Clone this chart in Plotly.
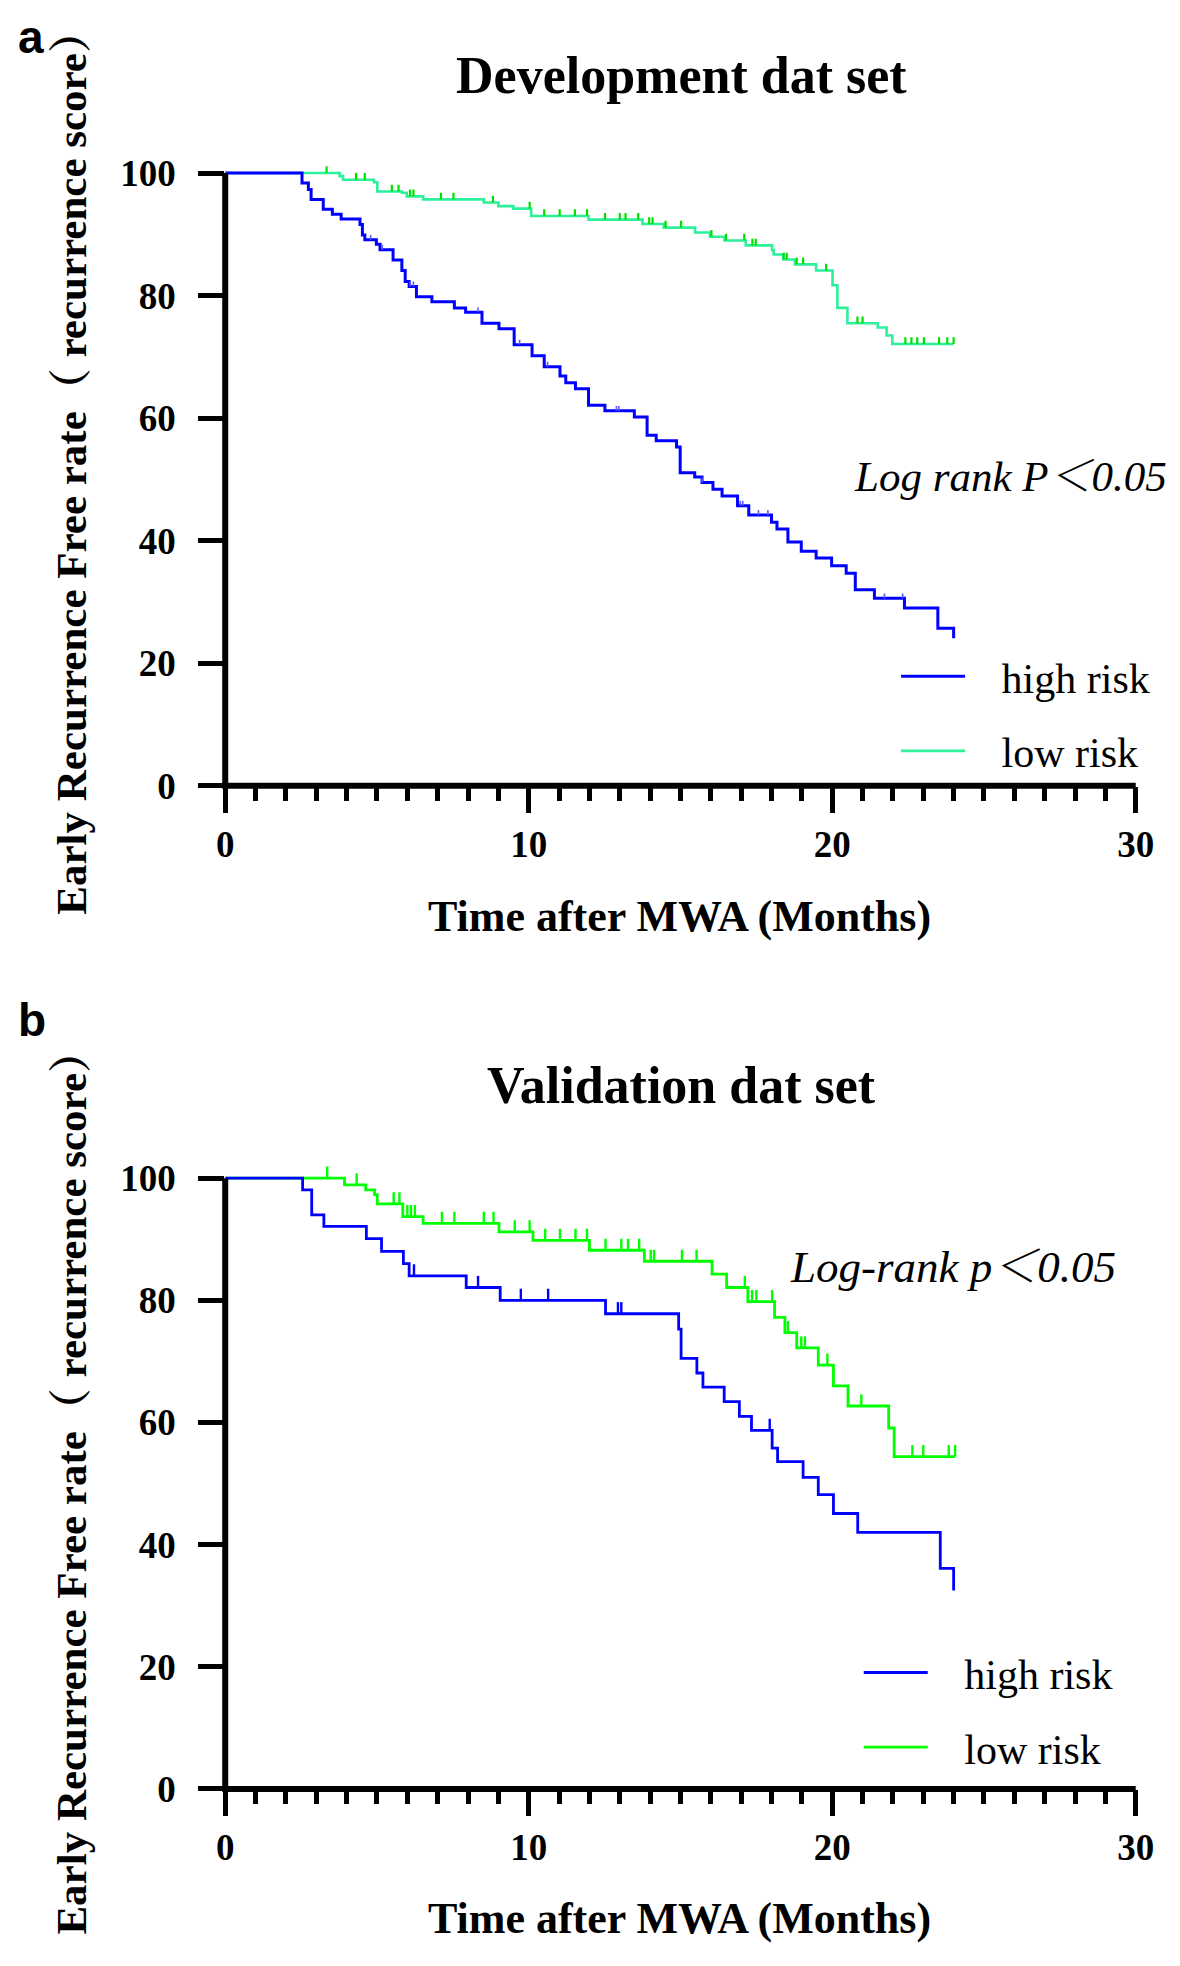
import bisect
import plotly.graph_objects as go

# ---------------- data ----------------
months_ticks = [0, 10, 20, 30]
rate_ticks = [0, 20, 40, 60, 80, 100]

# Development data set - high risk (event times / survival after step)
dev_high_t = [0, 2.53, 2.74, 2.83, 3.23, 3.53, 3.82, 4.44, 4.52, 4.60, 4.98, 5.10, 5.53, 5.82,
              5.93, 6.06, 6.30, 6.81, 7.55, 7.92, 8.46, 9.02, 9.52, 10.11, 10.51, 11.03, 11.22,
              11.54, 11.97, 12.51, 13.48, 13.90, 14.20, 14.87, 14.99, 15.47, 15.71, 16.07, 16.37,
              16.88, 17.25, 18.00, 18.18, 18.54, 18.98, 19.47, 19.98, 20.46, 20.76, 21.39, 22.38,
              23.48, 24.00]
dev_high_s = [100, 98.4, 97.3, 95.7, 94.1, 93.3, 92.5, 91.6, 89.9, 89.1, 88.4, 87.5, 85.8, 84.1,
              82.3, 81.5, 79.8, 79.0, 78.0, 77.3, 75.5, 74.6, 72.0, 70.2, 68.4, 66.9, 65.8,
              64.8, 62.1, 61.2, 60.2, 57.2, 56.3, 55.3, 51.1, 50.4, 49.5, 48.4, 47.3,
              45.7, 44.2, 43.0, 41.9, 39.8, 38.3, 37.2, 35.9, 34.7, 32.0, 30.6, 29.0,
              25.7, 24.1]
dev_high_cens = [4.79, 5.17, 6.09, 6.20, 8.33, 9.70, 10.62, 12.89, 12.97, 15.71, 16.97, 17.05,
                 17.57, 17.88, 21.72, 22.32]

# Development data set - low risk
dev_low_t = [0, 3.77, 3.88, 4.90, 5.01, 5.82, 5.98, 6.52, 8.52, 9.00, 9.49, 10.08, 11.97, 13.75,
             14.45, 15.48, 15.97, 16.45, 17.15, 18.02, 18.07, 18.39, 18.77, 19.47, 20.01, 20.17,
             20.50, 21.50, 21.79, 21.98, 24.00]
dev_low_s = [100, 99.5, 98.9, 98.5, 97.0, 96.8, 96.2, 95.7, 95.2, 94.6, 94.2, 93.0, 92.4, 91.7,
             91.1, 90.3, 89.6, 89.0, 88.2, 87.4, 86.7, 85.9, 85.1, 84.1, 81.7, 78.0,
             75.5, 74.8, 73.5, 72.1, 72.1]
dev_low_cens = [3.34, 4.31, 4.60, 5.49, 5.71, 6.09, 6.20, 7.11, 7.52, 8.82, 10.03, 10.51, 11.02,
                11.52, 11.92, 12.51, 13.00, 13.19, 13.61, 13.97, 14.08, 14.51, 15.02, 16.02,
                16.50, 17.10, 17.37, 17.48, 18.40, 18.50, 18.83, 19.04, 19.80, 20.83, 21.00,
                22.41, 22.61, 22.80, 23.02, 23.52, 23.79, 24.00]

# Validation data set - high risk
val_high_t = [0, 2.55, 2.85, 3.25, 4.65, 5.15, 5.87, 6.06, 7.94, 9.06, 12.53, 14.94, 15.02,
              15.54, 15.74, 16.44, 16.94, 17.34, 18.02, 18.20, 19.04, 19.54, 20.04, 20.84,
              23.56, 24.00]
val_high_s = [100, 98.1, 94.0, 92.1, 90.1, 88.0, 86.0, 84.0, 82.1, 80.0, 77.8, 75.3, 70.5,
              68.1, 65.8, 63.4, 61.0, 58.7, 55.8, 53.6, 51.0, 48.2, 45.1, 42.0,
              36.1, 32.5]
val_high_cens = [6.22, 8.33, 9.74, 10.64, 12.94, 13.05, 17.94]

# Validation data set - low risk
val_low_t = [0, 3.93, 4.63, 4.92, 5.01, 5.85, 6.52, 9.02, 10.14, 12.00, 13.81, 16.04, 16.52,
             17.22, 18.10, 18.44, 18.83, 19.54, 20.04, 20.52, 21.86, 22.04, 24.05]
val_low_s = [100, 98.9, 98.1, 97.3, 95.8, 93.7, 92.6, 91.2, 89.8, 88.2, 86.4, 84.3, 82.1,
             79.8, 77.2, 74.7, 72.2, 69.4, 66.0, 62.7, 59.1, 54.4, 54.4]
val_low_cens = [3.36, 4.33, 5.55, 5.74, 6.00, 6.12, 6.25, 7.14, 7.55, 8.52, 8.84, 9.54, 10.03,
                10.54, 11.03, 11.54, 11.92, 12.53, 13.05, 13.27, 13.64, 14.02, 14.13, 15.05,
                15.53, 17.12, 17.36, 17.50, 18.02, 18.54, 18.98, 19.10, 19.84, 20.96, 22.64,
                23.00, 23.84, 24.05]

group_names = ["high risk", "low risk"]
panel_titles = ["Development dat set", "Validation dat set"]
logrank_texts = ["Log rank P\uff1c0.05", "Log-rank p\uff1c0.05"]
x_title = "Time after MWA (Months)"
y_title = "Early Recurrence Free rate\uff08 recurrence score\uff09"


def surv_at(times, surv, t):
    i = bisect.bisect_right(times, t) - 1
    return surv[max(i, 0)]


# ---------------- layout geometry ----------------
W, H = 1180, 1966
SERIF = "Liberation Serif, Times New Roman, Noto Serif CJK SC, Noto Sans CJK SC, serif"
XR = [0, 30.2]
X0PX, XPPM = 212.0, 30.9
XDOM = [X0PX / W, (X0PX + (XR[1] - XR[0]) * XPPM) / W]
YR = [0, 103]
# (pixel of y=0, pixels per unit) for panel a and b
PANELS = [(785.0, 6.2), (1800.0, 6.18)]
YDOMS = []
for y0px, ppu in PANELS:
    YDOMS.append([1 - y0px / H, 1 - (y0px - (YR[1] - YR[0]) * ppu) / H])


def xp(v):
    return XDOM[0] + (v - XR[0]) / (XR[1] - XR[0]) * (XDOM[1] - XDOM[0])


def yp(v, k):
    d = YDOMS[k]
    return d[0] + (v - YR[0]) / (YR[1] - YR[0]) * (d[1] - d[0])


fig = go.Figure()

LEG_PAD = "\u2002\u2005"  # gap between legend line sample and its label

groups = [
    # panel, name, times, surv, cens, line colour, line width, tick colour, tick h, tick w
    (0, group_names[1], dev_low_t, dev_low_s, dev_low_cens, "#2DF09A", 2.6, "#00E000", 1.1, 2.2),
    (0, group_names[0], dev_high_t, dev_high_s, dev_high_cens, "#0000FF", 3.0, "#5A5AFF", 0.8, 1.6),
    (1, group_names[1], val_low_t, val_low_s, val_low_cens, "#00FF00", 2.8, "#00FF00", 1.9, 2.4),
    (1, group_names[0], val_high_t, val_high_s, val_high_cens, "#0000FF", 2.8, "#0000FF", 1.9, 2.4),
]

for k, name, ts, ss, cens, col, lw, tcol, th, tw in groups:
    xa = "x" if k == 0 else "x2"
    ya = "y" if k == 0 else "y2"
    leg = "legend" if k == 0 else "legend2"
    fig.add_trace(go.Scatter(
        x=ts, y=ss, mode="lines", line=dict(color=col, width=lw, shape="hv"),
        name=LEG_PAD + name, xaxis=xa, yaxis=ya, legend=leg, legendgroup=f"{k}{name}",
        legendrank=1 if name == group_names[0] else 2, hoverinfo="skip"))
    cy = [surv_at(ts, ss, c) for c in cens]
    fig.add_trace(go.Scatter(
        x=cens, y=cy, mode="markers", marker=dict(size=1, color="rgba(0,0,0,0)"),
        error_y=dict(type="data", symmetric=False, array=[th] * len(cens),
                     arrayminus=[0] * len(cens), width=0, thickness=tw, color=tcol),
        showlegend=False, xaxis=xa, yaxis=ya, legendgroup=f"{k}{name}", hoverinfo="skip"))

tickfont = dict(family=SERIF, size=37, color="black", weight="bold")
for k in range(2):
    sfx = "" if k == 0 else "2"
    fig.update_layout(**{
        f"xaxis{sfx}": dict(
            domain=XDOM, range=XR, anchor=f"y{sfx}", showline=False, showgrid=False,
            zeroline=False, tickmode="array", tickvals=months_ticks,
            ticktext=[str(v) for v in months_ticks], ticks="outside", ticklen=26,
            tickwidth=5, tickcolor="black", tickfont=tickfont, ticklabelstandoff=0,
            minor=dict(dtick=1, tick0=0, ticks="outside", ticklen=14, tickwidth=5,
                       tickcolor="black", showgrid=False)),
        f"yaxis{sfx}": dict(
            domain=YDOMS[k], range=YR, anchor=f"x{sfx}", showline=False, showgrid=False,
            zeroline=False, tickmode="array", tickvals=rate_ticks,
            ticktext=[str(v) for v in rate_ticks], ticks="outside", ticklen=26,
            tickwidth=5, tickcolor="black", tickfont=tickfont, ticklabelstandoff=15),
    })

shapes = []
annotations = []
for k in range(2):
    # axis lines (drawn in paper coordinates so they are not clipped)
    shapes.append(dict(type="line", xref="paper", yref="paper", x0=xp(0), x1=xp(0),
                       y0=yp(0, k), y1=yp(100, k), line=dict(color="black", width=6),
                       layer="above"))
    shapes.append(dict(type="line", xref="paper", yref="paper", x0=xp(0) - 3.0 / W, x1=xp(30),
                       y0=yp(0, k), y1=yp(0, k), line=dict(color="black", width=6),
                       layer="above"))


def P(xpx, ypx):
    return xpx / W, 1 - ypx / H


title_pos = [(677, 66), (677, 1088)]
xtitle_pos = [(675, 917), (675, 1931)]
ytitle_pos = [(56, 458), (56, 1490)]
logrank_pos = [(850, 472), (785, 1272)]
logrank_size = [43, 45]
label_pos = [(0, 0), (0, 995)]
panel_labels = ["a", "b"]
for k in range(2):
    x, y = P(*title_pos[k])
    annotations.append(dict(text=panel_titles[k], x=x, y=y, xref="paper", yref="paper",
                            showarrow=False, xanchor="center", yanchor="middle",
                            font=dict(family=SERIF, size=52, color="black", weight="bold")))
    x, y = P(*xtitle_pos[k])
    annotations.append(dict(text=x_title, x=x, y=y, xref="paper", yref="paper",
                            showarrow=False, xanchor="center", yanchor="middle",
                            font=dict(family=SERIF, size=44, color="black", weight="bold")))
    x, y = P(*ytitle_pos[k])
    annotations.append(dict(text=y_title, x=x, y=y, xref="paper", yref="paper",
                            showarrow=False, xanchor="center", yanchor="middle", textangle=-90,
                            font=dict(family=SERIF, size=43, color="black", weight="bold")))
    x, y = P(*logrank_pos[k])
    annotations.append(dict(text=logrank_texts[k], x=x, y=y, xref="paper", yref="paper",
                            showarrow=False, xanchor="left", yanchor="middle",
                            font=dict(family=SERIF, size=logrank_size[k], color="black",
                                      style="italic")))
    x, y = P(*label_pos[k])
    annotations.append(dict(text=panel_labels[k], x=x, y=y, xref="paper", yref="paper",
                            showarrow=False, xanchor="left", yanchor="top", borderpad=0,
                            font=dict(family="Liberation Sans, Arial, sans-serif", size=46,
                                      color="black", weight="bold")))

legend_pos = [(895, 640), (857, 1648)]
legends = {}
for k in range(2):
    x, y = P(*legend_pos[k])
    legends["legend" if k == 0 else "legend2"] = dict(
        x=x, y=y, xanchor="left", yanchor="top", bgcolor="rgba(0,0,0,0)",
        font=dict(family=SERIF, size=42, color="black"), itemwidth=64,
        tracegroupgap=17, traceorder="grouped")

fig.update_layout(
    width=W, height=H, margin=dict(l=0, r=0, t=0, b=0),
    paper_bgcolor="white", plot_bgcolor="white",
    shapes=shapes, annotations=annotations, **legends,
)

fig.write_html("out.html")
